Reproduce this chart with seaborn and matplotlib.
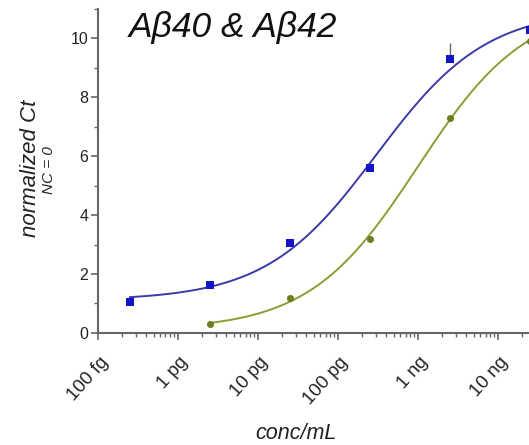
import numpy as np
import pandas as pd
import matplotlib
matplotlib.use("Agg")
import matplotlib.pyplot as plt
import matplotlib.ticker as mticker
import matplotlib.transforms as mtransforms
import seaborn as sns

# ---- data ----
conc = [2.5e-13, 2.5e-12, 2.5e-11, 2.5e-10, 2.5e-9, 2.5e-8]  # g/mL
ab40_ct = [1.05, 1.62, 3.05, 5.6, 9.3, 10.27]
ab42_conc = [2.5e-12, 2.5e-11, 2.5e-10, 2.5e-9, 2.5e-8]
ab42_ct = [0.3, 1.18, 3.2, 7.3, 9.9]
ab40_err_up = [0, 0, 0, 0, 0.55, 0]

# 4-parameter logistic fit parameters (bottom, top, log10 EC50, hill)
ab40_fit = [1.1, 11.0, -9.52, 0.63]
ab42_fit = [0.1, 11.2, -9.0, 0.64]

xtick_vals = [1e-13, 1e-12, 1e-11, 1e-10, 1e-9, 1e-8]
xtick_labels = ["100 fg", "1 pg", "10 pg", "100 pg", "1 ng", "10 ng"]
ytick_vals = [0, 2, 4, 6, 8, 10]

blue_pt = "#1414c8"
blue_ln = "#3a3aa8"
green_pt = "#6e7f22"
green_ln = "#8d9c34"


def fourpl(x, p):
    b, t, c, h = p
    return b + (t - b) / (1 + 10 ** (h * (c - np.log10(x))))


sns.set_theme(style="ticks")
plt.rcParams["font.family"] = ["Liberation Sans", "DejaVu Sans"]

fig = plt.figure(figsize=(5.29, 4.45), dpi=100)
ax = fig.add_axes([0.185, 0.252, 0.815, 0.728])

# fitted curves
xs40 = np.logspace(np.log10(conc[0]), np.log10(conc[-1]), 200)
xs42 = np.logspace(np.log10(ab42_conc[0]), np.log10(ab42_conc[-1]), 200)
df_fit = pd.concat([
    pd.DataFrame({"x": xs40, "y": fourpl(xs40, ab40_fit), "s": "Ab40"}),
    pd.DataFrame({"x": xs42, "y": fourpl(xs42, ab42_fit), "s": "Ab42"}),
])
sns.lineplot(data=df_fit, x="x", y="y", hue="s", palette=[blue_ln, green_ln],
             linewidth=1.4, legend=False, ax=ax)

# error bar
ax.errorbar(conc, ab40_ct, yerr=[np.zeros(len(conc)), ab40_err_up], fmt="none",
            ecolor="#666677", elinewidth=1.0, capsize=0)

# points
sns.scatterplot(x=conc, y=ab40_ct, color=blue_pt, marker="s", s=28,
                edgecolor=blue_pt, linewidth=0, ax=ax, zorder=5, clip_on=False)
sns.scatterplot(x=ab42_conc, y=ab42_ct, color=green_pt, marker="o", s=26,
                edgecolor=green_pt, linewidth=0, ax=ax, zorder=5, clip_on=False)

ax.set_xscale("log")
ax.set_xlim(1e-13, 10 ** (-13 + 431 / 80))
ax.set_ylim(0, 11)

ax.set_xticks(xtick_vals)
ax.set_xticklabels(xtick_labels, rotation=48, ha="right", va="top",
                   rotation_mode="anchor", fontsize=13.5, color="#222222")
ax.xaxis.set_minor_locator(mticker.LogLocator(base=10, subs=np.arange(2, 10)))
ax.xaxis.set_minor_formatter(mticker.NullFormatter())
ax.set_yticks(ytick_vals)
ax.set_yticklabels([str(v) for v in ytick_vals], fontsize=11.5, color="#222222")
ax.yaxis.set_minor_locator(mticker.MultipleLocator(1))

for side in ["top", "right"]:
    ax.spines[side].set_visible(False)
for side in ["left", "bottom"]:
    ax.spines[side].set_color("#666666")
    ax.spines[side].set_linewidth(1.5)
ax.tick_params(axis="both", which="major", direction="out", length=5, width=1.2,
               color="#666666", pad=2)
ax.tick_params(axis="both", which="minor", direction="out", length=3, width=1.0,
               color="#666666")

# shift rotated x tick labels (after tick_params, which resets transforms)
offset = mtransforms.ScaledTranslation(1 / 100, -11 / 100, fig.dpi_scale_trans)
for lab in ax.get_xticklabels():
    lab.set_transform(lab.get_transform() + offset)

ax.set_xlabel("")
ax.set_ylabel("")
fig.text(0.56, 1 - 439 / 445, "conc/mL", fontsize=15.5, style="italic", ha="center",
         va="baseline", color="#222222")
fig.text(0.058, 0.622, "normalized Ct", fontsize=16, style="italic", rotation=90,
         ha="center", va="center", color="#222222")
fig.text(0.093, 0.618, "NC = 0", fontsize=11, style="italic", rotation=90,
         ha="center", va="center", color="#222222")

ax.text(0.072, (333 - 37) / 324, "Aβ40 & Aβ42", transform=ax.transAxes,
        fontsize=25.5, style="italic", ha="left", va="baseline", color="#111111")

fig.savefig("out.png", dpi=100)
